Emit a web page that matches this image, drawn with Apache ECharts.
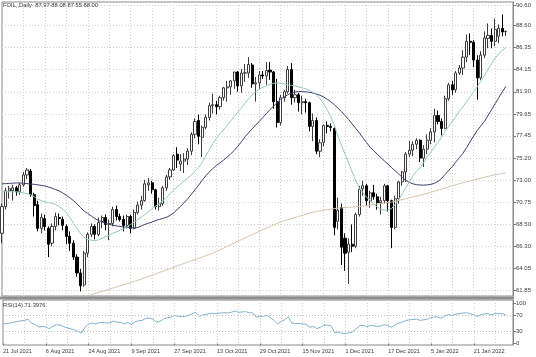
<!DOCTYPE html>
<html><head><meta charset="utf-8">
<script src="https://cdn.jsdelivr.net/npm/echarts@6/dist/echarts.min.js"></script>
<style>html,body{margin:0;padding:0;background:#fff}#c{width:536px;height:357px}</style>
</head><body><div id="c"></div>
<script>
const symbol = 'FOIL';
const dateTicks = ['21 Jul 2021','6 Aug 2021','24 Aug 2021','9 Sep 2021','27 Sep 2021','13 Oct 2021','29 Oct 2021','15 Nov 2021','1 Dec 2021','17 Dec 2021','5 Jan 2022','21 Jan 2022'];
const priceTicks = [61.85,64.05,66.30,68.50,70.75,73.00,75.20,77.45,79.65,81.90,84.15,86.35,88.60,90.60];
const rsiTicks = [0,30,70,100];
const rsiLevels = [30,70];

const open = [67.6,70.3,71.9,71.9,72.2,71.8,72.5,73.5,73.9,71.5,
70.5,68.1,69.1,68.1,66.6,68.3,69.2,69.0,68.3,67.3,
66.6,65.2,63.6,62.4,65.6,67.5,68.3,67.5,68.8,69.2,
68.5,68.6,70.0,69.3,69.0,68.4,69.3,68.1,69.7,70.45,
70.9,72.5,72.7,72.0,70.3,70.6,72.2,73.3,74.0,75.6,
74.6,74.9,75.1,75.9,77.6,79.0,77.3,78.3,79.3,80.5,
80.6,80.4,81.3,82.3,82.4,83.0,83.9,82.5,83.8,83.8,
84.6,82.7,82.8,83.6,83.5,84.1,83.9,80.9,78.8,81.3,
81.9,84.15,81.3,81.6,80.8,80.9,80.8,78.4,79.0,75.9,
76.8,78.5,78.4,78.2,68.8,70.2,67.1,65.7,66.5,66.3,
69.5,72.1,72.4,70.9,71.7,71.3,70.7,70.9,72.4,70.9,
68.2,71.1,72.8,73.8,75.6,76.0,76.6,77.0,75.2,76.1,
77.0,77.85,79.5,78.9,78.2,81.2,82.6,82.1,83.8,84.3,
85.4,87.0,86.9,85.1,83.3,85.6,87.3,87.6,87.0,87.5,
88.3,87.97];
const high = [70.6,72.2,72.4,72.5,72.4,72.7,73.8,74.2,74.1,71.7,
70.9,69.6,69.5,68.3,68.6,69.7,69.6,69.3,68.5,67.8,
66.9,65.5,64.0,65.8,67.7,68.6,68.5,69.2,69.4,69.5,
69.0,70.3,70.4,69.6,69.4,69.5,69.5,70.0,70.8,71.4,
73.0,73.2,72.9,72.1,71.2,72.4,73.5,74.2,75.6,76.3,
75.6,75.7,76.2,77.8,79.2,79.6,78.5,79.6,80.8,81.7,
81.0,81.5,82.4,83.0,83.1,83.9,84.0,84.2,84.7,85.4,
84.8,83.4,84.0,84.0,84.9,84.9,84.0,83.2,81.6,82.1,
84.5,84.8,82.1,81.8,81.5,81.2,80.9,79.7,79.3,77.1,
78.6,78.9,78.7,78.3,71.2,70.6,67.6,67.1,68.5,69.7,
72.4,72.9,72.6,71.9,72.5,71.6,71.3,72.6,72.5,71.0,
71.4,72.9,73.9,75.8,76.9,76.9,77.2,77.1,76.5,77.6,
78.2,80.2,80.0,79.2,81.5,82.8,83.0,84.0,84.6,86.1,
87.7,87.8,87.1,85.6,86.0,88.0,88.8,88.3,89.3,88.7,
89.7,88.08];
const low = [66.6,70.0,71.1,70.9,71.4,71.5,72.3,73.1,71.3,69.3,
67.8,67.6,67.9,65.2,66.3,67.9,68.4,67.9,66.5,65.8,
64.9,63.2,61.75,62.2,65.2,67.2,67.0,67.3,68.1,67.9,
66.9,68.3,68.9,68.8,67.8,68.1,67.6,68.0,69.5,70.0,
70.8,71.9,71.6,70.0,69.9,70.4,71.9,73.0,73.9,74.2,
73.9,73.7,74.5,75.5,77.2,76.6,75.3,78.1,79.0,79.7,
79.6,80.1,81.0,80.9,81.6,82.2,81.9,81.8,82.9,83.3,
82.3,80.9,82.2,83.2,82.6,83.1,80.2,78.3,78.5,80.9,
81.7,80.6,80.8,79.9,79.6,79.8,77.9,76.9,75.6,75.3,
76.4,77.7,77.9,67.4,68.0,64.4,63.8,62.5,65.7,66.1,
69.3,71.4,70.4,70.2,71.0,70.0,69.5,70.6,69.8,66.1,
68.0,70.6,72.4,72.8,75.3,75.4,76.1,74.8,74.3,75.6,
76.6,76.8,78.6,77.5,78.1,81.0,81.6,81.8,83.6,83.6,
84.9,85.6,84.4,81.1,83.1,85.3,86.3,86.3,86.5,86.8,
87.5,87.55];
const close = [70.3,71.9,72.1,72.2,71.8,72.5,73.5,74.0,71.5,70.4,
68.1,69.2,68.3,66.5,68.3,69.3,69.1,68.4,67.3,66.6,
65.2,63.6,62.3,65.6,67.5,68.3,67.5,68.7,69.2,68.5,
68.6,70.0,69.3,69.0,68.4,69.3,68.1,69.7,70.45,70.9,
72.6,72.7,72.0,70.3,70.6,72.2,73.3,74.0,75.45,75.0,
74.9,75.1,75.9,77.6,78.9,77.4,78.3,79.3,80.5,80.6,
80.4,81.3,82.3,82.4,83.0,83.9,82.5,83.8,83.8,84.65,
82.7,82.8,83.6,83.5,84.05,83.9,80.9,78.8,81.3,81.9,
84.15,81.3,81.6,80.8,80.9,80.8,78.4,79.0,75.9,76.75,
78.5,78.4,78.3,68.2,69.95,66.2,65.6,66.5,66.3,69.5,
72.05,72.4,70.9,71.7,71.3,70.7,70.9,72.4,70.9,68.2,
71.1,72.8,73.8,75.6,76.0,76.6,77.0,75.2,76.1,77.0,
77.85,79.5,78.9,78.2,81.2,82.6,82.1,83.8,84.3,85.4,
87.0,86.9,85.1,83.3,85.6,87.35,87.6,87.0,88.2,88.3,
87.95,88.00];

const maFast = [71.8,71.8,71.8,71.8,71.8,71.75,71.7,71.6,71.5,71.3,
71.05,70.9,70.8,70.7,70.65,70.5,70.3,70.05,69.7,69.2,
68.6,68.1,67.6,67.2,67.0,66.9,66.85,66.95,67.1,67.25,
67.4,67.6,67.75,67.9,68.05,68.25,68.5,68.75,69.0,69.25,
69.5,69.8,70.1,70.35,70.6,70.9,71.2,71.6,71.95,72.3,
72.6,72.9,73.2,73.5,73.85,74.25,74.75,75.4,76.05,76.7,
77.2,77.65,78.05,78.5,78.95,79.4,79.85,80.3,80.75,81.2,
81.6,81.9,82.15,82.35,82.5,82.65,82.75,82.8,82.75,82.7,
82.6,82.55,82.5,82.4,82.3,82.2,82.05,81.85,81.6,81.2,
80.7,80.1,79.4,78.5,77.4,76.5,75.6,74.7,73.8,72.9,
72.2,71.7,71.25,70.95,70.6,70.25,70.05,69.95,69.95,70.1,
70.5,71.0,71.6,72.2,72.8,73.4,73.9,74.2,74.75,75.3,
75.8,76.3,76.8,77.3,77.9,78.4,78.9,79.4,79.95,80.4,
80.9,81.4,81.9,82.4,82.95,83.5,84.2,84.75,85.3,85.75,
86.1,86.35];
const maMid = [72.6,72.62,72.65,72.67,72.69,72.69,72.66,72.62,72.58,72.55,
72.5,72.45,72.38,72.28,72.16,72.02,71.88,71.68,71.45,71.2,
70.9,70.55,70.2,69.85,69.6,69.35,69.1,68.9,68.75,68.6,
68.5,68.42,68.35,68.3,68.25,68.2,68.17,68.15,68.2,68.35,
68.5,68.62,68.75,68.9,69.0,69.1,69.22,69.4,69.65,70.0,
70.35,70.7,71.1,71.55,72.0,72.45,72.95,73.4,73.8,74.15,
74.45,74.72,75.0,75.3,75.62,75.98,76.4,76.85,77.35,77.75,
78.15,78.55,78.9,79.3,79.7,80.1,80.45,80.8,81.15,81.4,
81.6,81.78,81.88,81.92,81.92,81.9,81.85,81.78,81.68,81.55,
81.38,81.15,80.9,80.6,80.25,79.9,79.5,79.1,78.65,78.2,
77.75,77.25,76.78,76.3,75.95,75.6,75.25,74.92,74.6,74.25,
73.92,73.6,73.25,72.95,72.75,72.6,72.52,72.48,72.47,72.5,
72.55,72.65,72.85,73.15,73.55,73.95,74.35,74.8,75.25,75.7,
76.25,76.85,77.45,78.0,78.45,78.9,79.5,80.1,80.7,81.3,
81.9,82.45];
const maSlow = [null,null,null,null,null,null,null,null,null,null,
null,null,null,null,null,null,null,null,60.72,60.82,
60.92,61.02,61.12,61.2,61.3,61.4,61.52,61.63,61.74,61.85,
61.96,62.07,62.18,62.29,62.4,62.5,62.62,62.73,62.86,62.99,
63.12,63.25,63.38,63.51,63.64,63.77,63.9,64.03,64.16,64.3,
64.43,64.56,64.69,64.82,64.95,65.08,65.21,65.34,65.47,65.6,
65.77,65.94,66.11,66.28,66.45,66.62,66.79,66.96,67.13,67.3,
67.47,67.63,67.8,67.96,68.12,68.28,68.44,68.6,68.75,68.87,
68.98,69.09,69.2,69.31,69.42,69.53,69.64,69.74,69.8,69.86,
69.92,69.98,70.04,70.1,70.14,70.17,70.2,70.23,70.26,70.29,
70.32,70.36,70.41,70.46,70.51,70.56,70.61,70.66,70.71,70.76,
70.83,70.92,71.01,71.1,71.19,71.28,71.37,71.46,71.55,71.64,
71.74,71.85,71.96,72.07,72.18,72.29,72.4,72.51,72.62,72.72,
72.81,72.9,72.99,73.08,73.17,73.26,73.36,73.44,73.51,73.58,
73.65,73.72];
const rsi14 = [49.2,50,51,53,55,56.5,57.6,61,51,47,
41,43,41,37,43,47,46,42,39,36.5,
34,30.5,26,41,49,51,49,52,52.6,51,
52,56,53,52.6,49,52.6,48,54,57,57.6,
62.7,63.6,61,53.4,55,61,64.4,66,69.5,68.7,
67,67.8,70.4,74.6,78,67.8,71,72.9,75.4,75.4,
74.6,76.3,77,76.3,78,81.4,78,78.8,79.7,77,
76.3,66,67.8,67.8,70.4,64.4,57.6,49.2,55,59.3,
66,51,50,50,49,47.5,40.7,42.4,37.3,40.7,
45,45.8,44,27,29,25.5,24.6,27,29,36.5,
44,45.8,42.4,45,44,42.4,44,47.5,44,40.7,
47.5,51,53.4,57.6,59.3,60,61,57.6,59.3,61,
64.4,67,65.3,63.6,69.5,72,70.4,73.7,74.6,76.3,
77,74.6,71.2,67.8,72,74.6,74.6,72,74.6,74.6,
74.6,71.3976];

const padSlots = 2;
const categories = close.map((_, i) => i).concat(Array.from({length: padSlots}, (_, k) => close.length + k));
const candles = close.map((c, i) => [open[i], c, low[i], high[i]]);
const last = close.length - 1;
const FONT = 'Liberation Sans';
const gridColor = '#cfcfcf';
const textColor = '#3a3a3a';

const chart = echarts.init(document.getElementById('c'), null, {renderer: 'canvas'});
const xBase = (gi, showLabels) => ({
  type: 'category', gridIndex: gi, data: categories, boundaryGap: false,
  axisLine: {show: false},
  axisTick: showLabels ? {show: true, length: 2, interval: (i) => i % 12 === 0 && i <= last, lineStyle: {color: '#777'}} : {show: false},
  axisLabel: showLabels ? {
    show: true, interval: (i) => i % 12 === 0 && i <= last,
    formatter: (v, i) => dateTicks[Math.round(Number(v) / 12)] || '',
    align: 'left', fontSize: 5.6, fontFamily: FONT, color: textColor, margin: 3
  } : {show: false},
  splitLine: {show: true, interval: (i) => i % 6 === 0 && i > 0, lineStyle: {color: gridColor, type: [1, 2], width: 1}}
});

chart.setOption({
  animation: false,
  backgroundColor: '#ffffff',
  textStyle: {fontFamily: FONT},
  title: [
    {text: symbol + ',,Daily  ' + [open[last], high[last], low[last], close[last]].map(v => v.toFixed(2)).join(' '),
     left: 3, top: 2, padding: 0, textStyle: {fontSize: 5.8, fontWeight: 'normal', color: textColor, fontFamily: FONT}},
    {text: 'RSI(14) ' + rsi14[last].toFixed(4),
     left: 3, top: 302, padding: 0, textStyle: {fontSize: 5.8, fontWeight: 'normal', color: textColor, fontFamily: FONT}}
  ],
  grid: [
    {left: 2, top: 2, width: 511, height: 294, show: true, borderColor: '#8a8a8a', borderWidth: 1, containLabel: false},
    {left: 2, top: 300, width: 511, height: 45, show: true, borderColor: '#8a8a8a', borderWidth: 1, containLabel: false}
  ],
  graphic: [
    {type: 'rect', shape: {x: 0, y: 296.5, width: 514, height: 3}, style: {fill: '#8f8f8f'}, silent: true, z: 100}
  ],
  xAxis: [xBase(0, false), xBase(1, true)],
  yAxis: [
    {type: 'value', gridIndex: 0, position: 'right', min: 61.27, max: 90.97,
     axisLine: {show: true, lineStyle: {color: '#8a8a8a'}},
     axisTick: {show: true, length: 3, customValues: priceTicks, lineStyle: {color: '#777'}},
     axisLabel: {customValues: priceTicks, formatter: (v) => Number(v).toFixed(2), fontSize: 6, fontFamily: FONT, color: textColor, margin: 3},
     splitLine: {show: true, lineStyle: {color: gridColor, type: [1, 2]}}},
    {type: 'value', gridIndex: 1, position: 'right', min: -3.75, max: 108.75,
     axisLine: {show: true, lineStyle: {color: '#8a8a8a'}},
     axisTick: {show: true, length: 3, customValues: rsiTicks, lineStyle: {color: '#777'}},
     axisLabel: {customValues: rsiTicks, formatter: (v) => String(Math.round(v)), fontSize: 6, fontFamily: FONT, color: textColor, margin: 3},
     splitLine: {show: false}}
  ],
  series: [
    {type: 'candlestick', xAxisIndex: 0, yAxisIndex: 0, data: candles, barWidth: 2.6,
     itemStyle: {color: '#ffffff', color0: '#000000', borderColor: '#3c3c3c', borderColor0: '#000000', borderWidth: 1},
     markLine: {silent: true, symbol: 'none', animation: false,
       lineStyle: {width: 0, opacity: 0},
       label: {show: true, position: 'end', distance: 1, formatter: close[last].toFixed(2), backgroundColor: '#000', color: '#fff', fontSize: 6, fontFamily: FONT, padding: [1, 2, 1, 2]},
       data: [{yAxis: close[last]}]}},
    {type: 'line', xAxisIndex: 0, yAxisIndex: 0, data: maSlow, symbol: 'none', lineStyle: {color: '#d8c3a5', width: 1}, z: 3},
    {type: 'line', xAxisIndex: 0, yAxisIndex: 0, data: maMid, symbol: 'none', lineStyle: {color: '#3d4170', width: 1}, z: 3},
    {type: 'line', xAxisIndex: 0, yAxisIndex: 0, data: maFast, symbol: 'none', lineStyle: {color: '#94c9c2', width: 1}, z: 3},
    {type: 'line', xAxisIndex: 1, yAxisIndex: 1, data: rsi14, symbol: 'none', lineStyle: {color: '#7fb2d0', width: 1},
     markLine: {silent: true, symbol: 'none', animation: false, label: {show: false},
       lineStyle: {color: '#bdbdbd', type: [1, 2], width: 1},
       data: rsiLevels.map(v => ({yAxis: v}))}}
  ]
});
</script></body></html>
